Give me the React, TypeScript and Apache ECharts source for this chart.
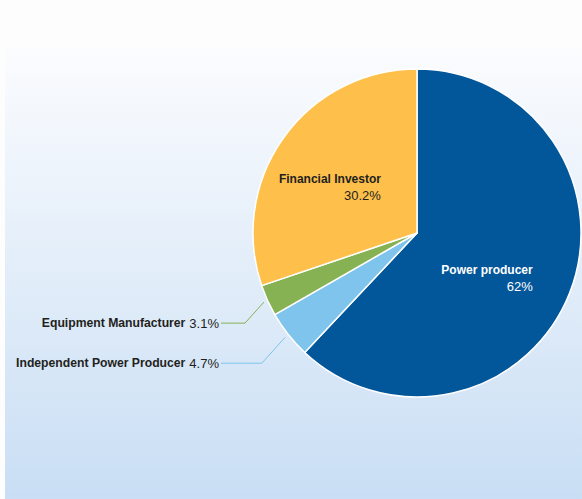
import React, { useEffect, useRef } from "react";
import * as echarts from "echarts";

const categories = ["Power producer", "Independent Power Producer", "Equipment Manufacturer", "Financial Investor"];
const values = [62, 4.7, 3.1, 30.2];
const colors = ["#02569a", "#7ec4ec", "#86b254", "#fec04b"];
const insideLabel = [true, false, false, true];
const labelTextColors = ["#ffffff", "#231f20", "#231f20", "#231f20"];

const CX = 417;
const CY = 233;
const R = 164;
const OUT_LABEL_RIGHT = 219;
const OUT_DROP = [0, 26, 21, 0];

export default function App() {
  const ref = useRef<HTMLDivElement>(null);
  useEffect(() => {
    if (!ref.current) return;
    const chart = echarts.init(ref.current, undefined, { renderer: "svg" });
    const data = categories.map((name, i) => ({
      name,
      value: values[i],
      itemStyle: { color: colors[i] },
      label: insideLabel[i]
        ? {
            position: "inside",
            formatter: "{b|{b}}\n{v|{c}%}",
            rich: {
              b: { fontWeight: "bold", fontSize: 12, color: labelTextColors[i], align: "right", lineHeight: 16, fontFamily: "Liberation Sans" },
              v: { fontSize: 13, color: labelTextColors[i], align: "right", lineHeight: 16, fontFamily: "Liberation Sans" },
            },
          }
        : {
            position: "outside",
            formatter: "{b|{b}}{v|{c}%}",
            rich: {
              b: { fontWeight: "bold", fontSize: 12.2, color: labelTextColors[i], fontFamily: "Liberation Sans" },
              v: { fontSize: 13, color: labelTextColors[i], fontFamily: "Liberation Sans", padding: [0, 0, 0, 4] },
            },
          },
      labelLine: { show: !insideLabel[i], lineStyle: { color: colors[i], width: 1 } },
    }));

    chart.setOption({
      animation: false,
      backgroundColor: "#fdfdfd",
      graphic: [
        {
          type: "rect",
          silent: true,
          z: -10,
          shape: { x: 5, y: 47, width: 600, height: 470 },
          style: {
            fill: new echarts.graphic.LinearGradient(0, 0, 0, 1, [
              { offset: 0, color: "#fbfcfe" },
              { offset: 1, color: "#c7ddf4" },
            ]),
          },
        },
      ],
      series: [
        {
          type: "pie",
          center: [CX, CY],
          radius: R,
          startAngle: 90,
          clockwise: true,
          avoidLabelOverlap: false,
          itemStyle: { borderColor: "#ffffff", borderWidth: 1.5 },
          label: { fontFamily: "Liberation Sans" },
          labelLayout: (params: any) => {
            const i = params.dataIndex;
            if (insideLabel[i]) {
              return i === 0 ? { dx: -9, dy: 14 } : { dx: -18, dy: 4 };
            }
            const pts = params.labelLinePoints;
            if (!pts) return {};
            const p0 = pts[0];
            const dx = p0[0] - CX;
            const dy = p0[1] - CY;
            const len = Math.sqrt(dx * dx + dy * dy) || 1;
            const sx = p0[0] + (dx / len) * 4;
            const sy = p0[1] + (dy / len) * 4;
            const drop = OUT_DROP[i];
            const bx = sx - drop * 0.9;
            const by = sy + drop;
            return {
              x: OUT_LABEL_RIGHT,
              y: by,
              align: "right",
              verticalAlign: "middle",
              labelLinePoints: [
                [sx, sy],
                [bx, by],
                [OUT_LABEL_RIGHT + 2, by],
              ],
            };
          },
          data,
        },
      ],
    });
    return () => chart.dispose();
  }, []);
  return <div ref={ref} style={{ position: "absolute", left: 0, top: 0, width: 582, height: 499 }} />;
}
